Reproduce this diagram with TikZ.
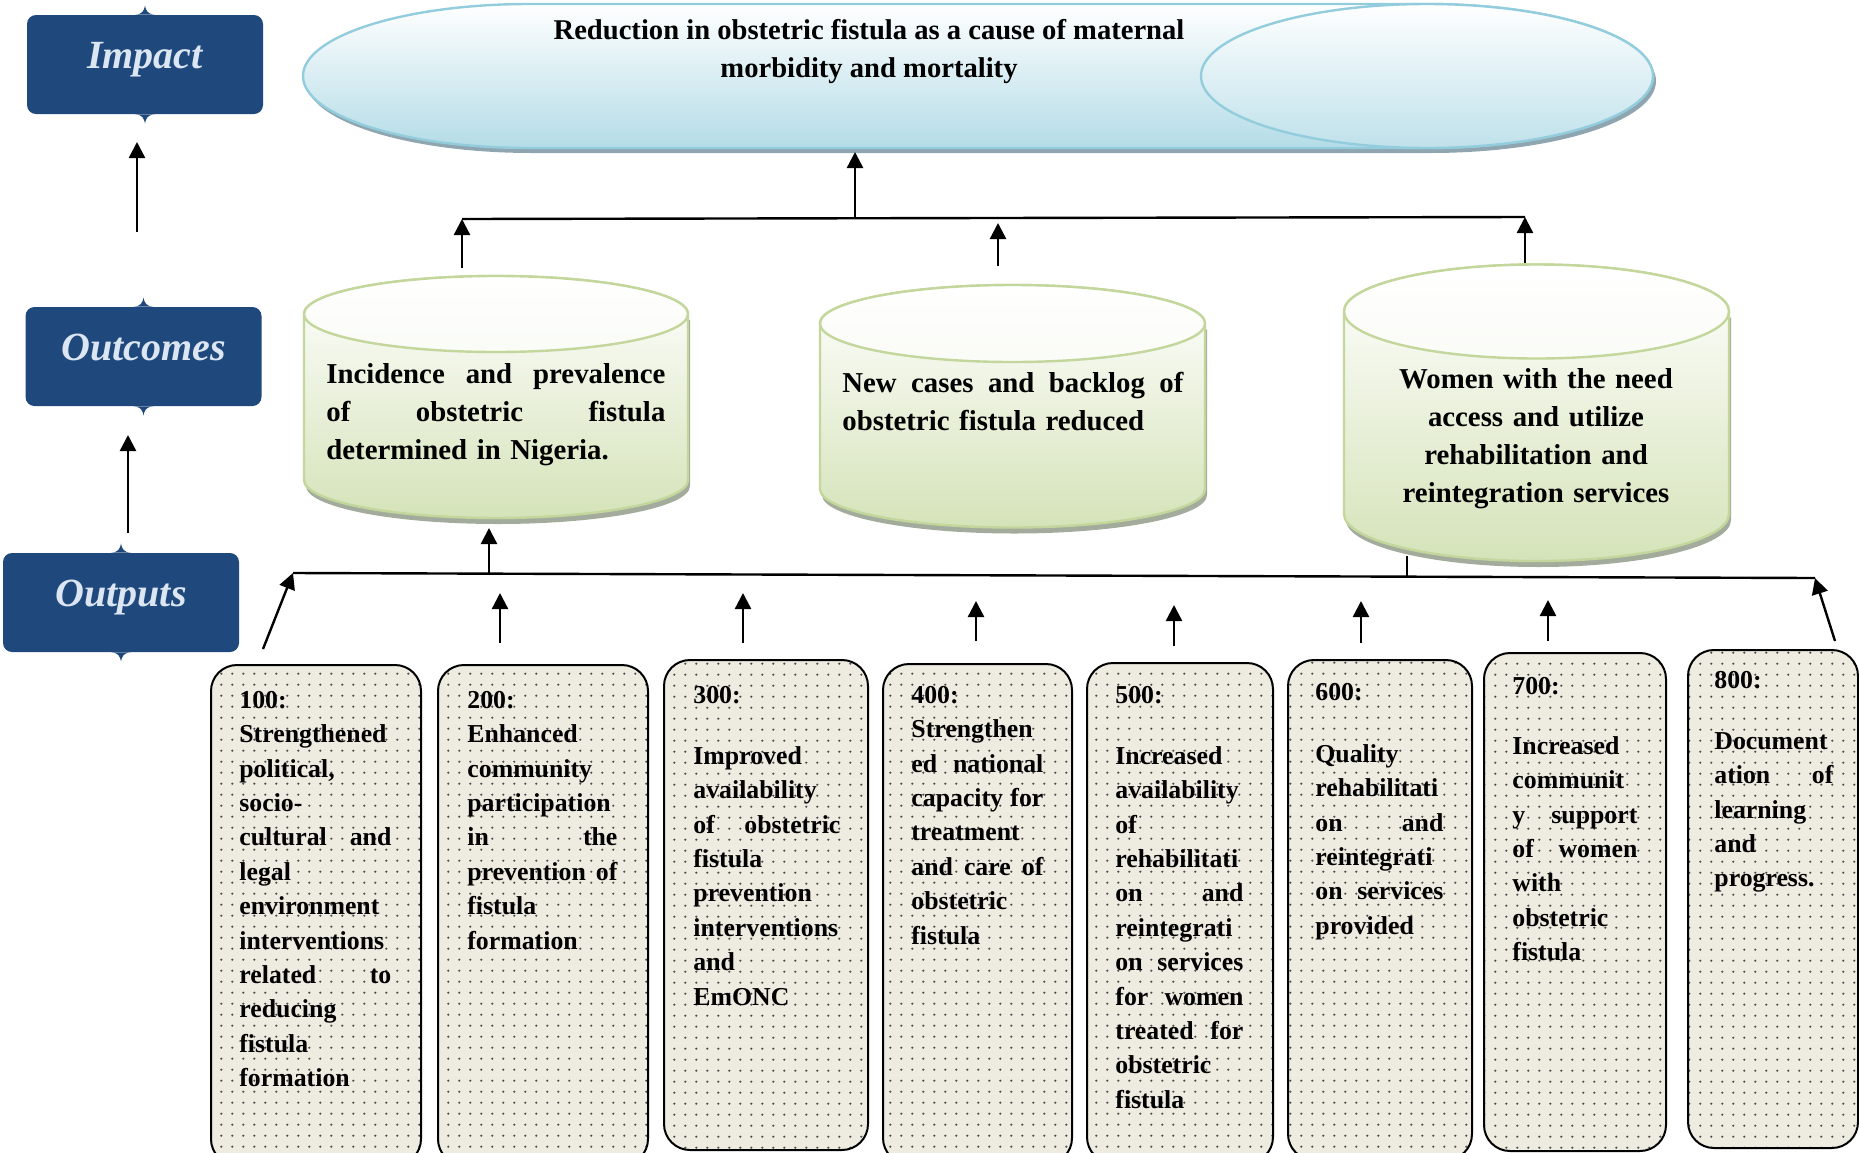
\documentclass[tikz,border=0pt]{standalone}
\usepackage{fontspec}
\setmainfont{Liberation Serif}
\usetikzlibrary{arrows.meta,patterns.meta,calc}

\definecolor{lblblue}{HTML}{1F497D}
\definecolor{lbltext}{HTML}{DCE6F2}
\definecolor{cylborder}{HTML}{C3D69B}
\definecolor{cylbottom}{HTML}{D5E3B9}
\definecolor{goalborder}{HTML}{93CDDD}
\definecolor{goalbottom}{HTML}{B4DCE7}
\definecolor{boxfill}{HTML}{EEEBE1}
\definecolor{dotcol}{HTML}{4A4A4A}
\definecolor{shadowcol}{HTML}{A3AC9C}
\definecolor{goalshadow}{HTML}{8FA6B0}

\tikzdeclarepattern{
  name=boxdots,
  type=uncolored,
  bounding box={(0pt,0pt) and (5.4pt,5.4pt)},
  tile size={(5.4pt,5.4pt)},
  code={\pgfpathcircle{\pgfpoint{2.7pt}{2.7pt}}{0.6pt}\pgfusepath{fill}}
}

\newcommand\jw{70pt}
\newcommand\jl[1]{\leavevmode\hbox to \jw{#1}}

\tikzset{
  lbl/.style={fill=lblblue, rounded corners=4.5pt, text=lbltext,
    font=\fontsize{20}{24}\selectfont\bfseries\itshape, inner sep=0pt,
    minimum width=118pt, text height=26.5pt, text depth=23pt, anchor=base},
  outbox/.style={draw=black, line width=1pt, rounded corners=13pt,
    preaction={fill=boxfill}, pattern={boxdots}, pattern color=dotcol,
    inner sep=0pt, anchor=north west},
  outtext/.style={anchor=north west, inner sep=0pt, align=left,
    font=\fontsize{12.9}{17.2}\selectfont\bfseries},
  cyltext/.style={anchor=north west, inner sep=0pt, align=left,
    font=\fontsize{14.4}{19}\selectfont\bfseries},
  conn/.style={line width=1.2pt},
  arr/.style={conn, -{Triangle[length=8pt,width=8pt]}},
  gcyl/.style={top color=white, bottom color=cylbottom, draw=cylborder, line width=1.2pt},
  gtop/.style={top color=white, bottom color=white!88!cylbottom, draw=cylborder, line width=1.2pt},
}

\newcommand\notches[1]{%
  \fill[lblblue] ([xshift=-5pt]#1.north) .. controls +(3.5pt,0pt) and +(-0.4pt,-2.5pt) .. ([yshift=4.5pt]#1.north)
     .. controls +(0.4pt,-2.5pt) and +(-3.5pt,0pt) .. ([xshift=5pt]#1.north) -- cycle;
  \fill[lblblue] ([xshift=-5pt]#1.south) .. controls +(3.5pt,0pt) and +(-0.4pt,2.5pt) .. ([yshift=-4.5pt]#1.south)
     .. controls +(0.4pt,2.5pt) and +(-3.5pt,0pt) .. ([xshift=5pt]#1.south) -- cycle;
}

\begin{document}
\begin{tikzpicture}[x=0.5pt,y=0.5pt]
\useasboundingbox (0,0) rectangle (1859,-1152);

% ---------- level labels ----------
\node[lbl] (impact) at (145,-68) {Impact};
\node[lbl] (outcomes) at (143.5,-360) {Outcomes};
\node[lbl] (outputs) at (121,-606) {Outputs};
\notches{impact}
\notches{outcomes}
\notches{outputs}

\coordinate (ia1) at (137,-232);
\coordinate (ia2) at (137,-142);
\coordinate (oa1) at (128,-533);
\coordinate (oa2) at (128,-435);
\draw[arr] (ia1) -- (ia2);
\draw[arr] (oa1) -- (oa2);

% ---------- impact (horizontal cylinder) ----------
\fill[goalshadow, shift={(3,-5)}] (529,-4) -- (1427,-4)
  arc[start angle=90, end angle=-90, x radius=226, y radius=72] -- (529,-148)
  arc[start angle=270, end angle=90, x radius=226, y radius=72] -- cycle;
\shadedraw[top color=white, bottom color=goalbottom, draw=goalborder, line width=1.2pt]
  (529,-4) -- (1427,-4)
  arc[start angle=90, end angle=-90, x radius=226, y radius=72] -- (529,-148)
  arc[start angle=270, end angle=90, x radius=226, y radius=72] -- cycle;
\shadedraw[top color=white, bottom color=goalbottom!85, draw=goalborder, line width=1.2pt]
  (1427,-76) ellipse [x radius=226, y radius=72];
\node[anchor=north, inner sep=0pt, align=center, font=\fontsize{14.3}{19}\selectfont\bfseries]
  (goal) at (869,-12.4) {\strut Reduction in obstetric fistula as a cause of maternal\\ morbidity and mortality};

% ---------- outcome cylinders ----------
% A
\fill[shadowcol, shift={(2,-6)}] (304,-314) -- (304,-480)
  arc[start angle=180, end angle=360, x radius=192, y radius=38] -- (688,-314) -- cycle;
\shadedraw[gcyl] (304,-314) -- (304,-480)
  arc[start angle=180, end angle=360, x radius=192, y radius=38] -- (688,-314)
  arc[start angle=0, end angle=180, x radius=192, y radius=38] -- cycle;
\shadedraw[gtop] (496,-314) ellipse [x radius=192, y radius=38];
\node[cyltext, text width=169.5pt] (cylA) at (326,-356.4)
  {\renewcommand\jw{169.5pt}\strut\jl{Incidence\hfill and\hfill prevalence}\\ \jl{of\hfill obstetric\hfill fistula}\\ determined in Nigeria.};
% B
\fill[shadowcol, shift={(2,-6)}] (820,-323.5) -- (820,-489)
  arc[start angle=180, end angle=360, x radius=192.5, y radius=38.5] -- (1205,-323.5) -- cycle;
\shadedraw[gcyl] (820,-323.5) -- (820,-489)
  arc[start angle=180, end angle=360, x radius=192.5, y radius=38.5] -- (1205,-323.5)
  arc[start angle=0, end angle=180, x radius=192.5, y radius=38.5] -- cycle;
\shadedraw[gtop] (1012.5,-323.5) ellipse [x radius=192.5, y radius=38.5];
\node[cyltext, text width=170.5pt] (cylB) at (842,-365.4)
  {\renewcommand\jw{170.5pt}\strut\jl{New\hfill cases\hfill and\hfill backlog\hfill of}\\ obstetric fistula reduced};
% C
\fill[shadowcol, shift={(2,-6)}] (1344,-311.5) -- (1344,-514)
  arc[start angle=180, end angle=360, x radius=192.5, y radius=47] -- (1729,-311.5) -- cycle;
\shadedraw[gcyl] (1344,-311.5) -- (1344,-514)
  arc[start angle=180, end angle=360, x radius=192.5, y radius=47] -- (1729,-311.5)
  arc[start angle=0, end angle=180, x radius=192.5, y radius=47] -- cycle;
\shadedraw[gtop] (1536.5,-311.5) ellipse [x radius=192.5, y radius=47];
\node[cyltext, anchor=north, align=center, text width=175pt] (cylC) at (1536,-361.4)
  {\strut Women with the need\\ access and utilize\\ rehabilitation and\\ reintegration services};

% ---------- top connectors ----------
\coordinate (busTL) at (462,-219);
\coordinate (busTR) at (1525,-217);
\coordinate (busTM) at (855,-219);
\coordinate (goalbot) at (855,-152);
\coordinate (cAup) at (462,-268);
\coordinate (cBup) at (998,-266);
\coordinate (cBtip) at (998,-223);
\coordinate (cCup) at (1525,-263);
\draw[conn] (busTL) -- (busTR);
\draw[arr] (busTM) -- (goalbot);
\draw[arr] (cAup) -- (busTL);
\draw[arr] (cBup) -- (cBtip);
\draw[arr] (cCup) -- (busTR);

% ---------- output boxes ----------
\node[outbox, minimum width=105pt, minimum height=250pt] (b1) at (210,-664) {};
\node[outbox, minimum width=105pt, minimum height=250pt] (b2) at (437,-664) {};
\node[outbox, minimum width=102pt, minimum height=245pt] (b3) at (663,-659) {};
\node[outbox, minimum width=94.5pt, minimum height=250pt] (b4) at (882,-663) {};
\node[outbox, minimum width=93pt, minimum height=250pt] (b5) at (1086,-662) {};
\node[outbox, minimum width=92pt, minimum height=250pt] (b6) at (1287,-659) {};
\node[outbox, minimum width=91pt, minimum height=249pt] (b7) at (1483,-652) {};
\node[outbox, minimum width=85pt, minimum height=249pt] (b8) at (1687,-649) {};

\node[outtext, text width=76pt] (t1) at (239,-683.9)
  {\renewcommand\jw{76pt}\strut 100:\\ Strengthened\\ political,\\ socio-\\ \jl{cultural\hfill and}\\ legal\\ environment\\ interventions\\ \jl{related\hfill to}\\ reducing\\ fistula\\ formation};
\node[outtext, text width=75pt] (t2) at (467,-683.9)
  {\renewcommand\jw{75pt}\strut 200:\\ Enhanced\\ community\\ participation\\ \jl{in\hfill the}\\ \jl{prevention\hfill of}\\ fistula\\ formation};
\node[outtext, text width=73.5pt] (t3) at (693,-678.9)
  {\renewcommand\jw{73.5pt}\strut 300:\\[13.3pt] Improved\\ availability\\ \jl{of\hfill obstetric}\\ fistula\\ prevention\\ interventions\\ and\\ EmONC};
\node[outtext, text width=66pt] (t4) at (911,-678.9)
  {\renewcommand\jw{66pt}\strut 400:\\ Strengthen\\ \jl{ed\hfill national}\\ \jl{capacity\hfill for}\\ treatment\\ \jl{and\hfill care\hfill of}\\ obstetric\\ fistula};
\node[outtext, text width=64pt] (t5) at (1115,-678.9)
  {\renewcommand\jw{64pt}\strut 500:\\[13.3pt] Increased\\ availability\\ of\\ rehabilitati\\ \jl{on\hfill and}\\ reintegrati\\ \jl{on\hfill services}\\ \jl{for\hfill women}\\ \jl{treated\hfill for}\\ obstetric\\ fistula};
\node[outtext, text width=64pt] (t6) at (1315,-675.9)
  {\renewcommand\jw{64pt}\strut 600:\\[13.8pt] Quality\\ rehabilitati\\ \jl{on\hfill and}\\ reintegrati\\ \jl{on\hfill services}\\ provided};
\node[outtext, text width=62.5pt] (t7) at (1512,-669.9)
  {\renewcommand\jw{62.5pt}\strut 700:\\[12.8pt] Increased\\ communit\\ \jl{y\hfill support}\\ \jl{of\hfill women}\\ with\\ obstetric\\ fistula};
\node[outtext, text width=59.5pt] (t8) at (1714,-663.9)
  {\renewcommand\jw{59.5pt}\strut 800:\\[13.3pt] Document\\ \jl{ation\hfill of}\\ learning\\ and\\ progress.};

% ---------- bottom connectors ----------
\coordinate (busBL) at (293,-573);
\coordinate (busBR) at (1815,-578);
\coordinate (cAdown) at (489,-575);
\coordinate (cAbot) at (489,-528);
\coordinate (cCbot) at (1407,-556);
\coordinate (cCbus) at (1407,-577);
\draw[conn] (busBL) -- (busBR);
\draw[arr] (cAdown) -- (cAbot);
\draw[conn] (cCbot) -- (cCbus);

\coordinate (a1) at (263,-649);
\coordinate (a2s) at (500,-643); \coordinate (a2e) at (500,-593);
\coordinate (a3s) at (743,-643); \coordinate (a3e) at (743,-593);
\coordinate (a4s) at (976,-641); \coordinate (a4e) at (976,-601);
\coordinate (a5s) at (1174,-646); \coordinate (a5e) at (1174,-605);
\coordinate (a6s) at (1361,-643); \coordinate (a6e) at (1361,-601);
\coordinate (a7s) at (1548,-641); \coordinate (a7e) at (1548,-600);
\coordinate (a8) at (1835,-641);
\draw[arr] (a1) -- (busBL);
\draw[arr] (a2s) -- (a2e);
\draw[arr] (a3s) -- (a3e);
\draw[arr] (a4s) -- (a4e);
\draw[arr] (a5s) -- (a5e);
\draw[arr] (a6s) -- (a6e);
\draw[arr] (a7s) -- (a7e);
\draw[arr] (a8) -- (busBR);
\end{tikzpicture}
\end{document}
